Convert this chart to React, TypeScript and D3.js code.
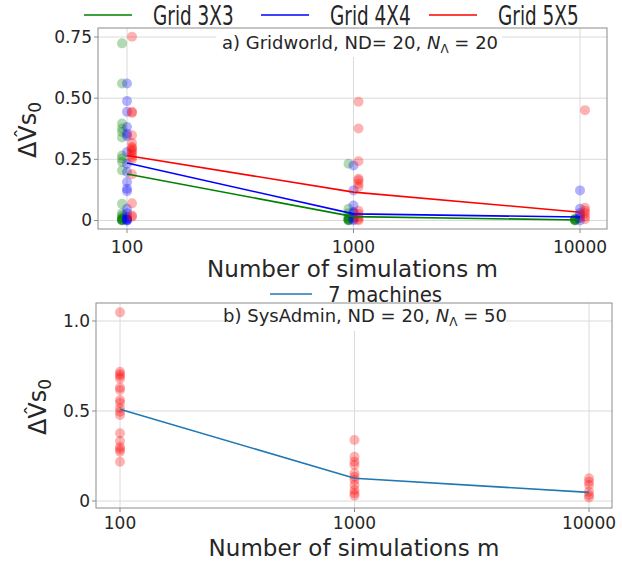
import React from 'react'
import * as d3 from 'd3'

// simulations m
const sims = [100, 1000, 10000]

// a) Gridworld, points per m (Delta V_s0)
const grid3Points = [
  [0.724, 0.56, 0.396, 0.376, 0.362, 0.339, 0.266, 0.253, 0.239, 0.205, 0.068, 0.03, 0.02, 0.012, 0.008, 0.005, 0.003, 0.002, 0.001, 0.0],
  [0.232, 0.048, 0.03, 0.015, 0.01, 0.006, 0.004, 0.002, 0.001, 0.0],
  [0.008, 0.005, 0.003, 0.002, 0.001, 0.0],
]
const grid4Points = [
  [0.56, 0.488, 0.444, 0.382, 0.355, 0.345, 0.28, 0.232, 0.198, 0.157, 0.13, 0.12, 0.048, 0.03, 0.014, 0.008, 0.005, 0.003, 0.0, 0.0],
  [0.225, 0.123, 0.061, 0.035, 0.03, 0.012, 0.005, 0.0],
  [0.123, 0.048, 0.03, 0.02, 0.01, 0.0],
]
const grid5Points = [
  [0.751, 0.444, 0.44, 0.348, 0.317, 0.30, 0.295, 0.287, 0.28, 0.27, 0.26, 0.25, 0.189, 0.07, 0.02, 0.015],
  [0.485, 0.376, 0.242, 0.171, 0.164, 0.15, 0.137, 0.04, 0.027, 0.014, 0.005, 0.0],
  [0.451, 0.052, 0.04, 0.03, 0.016, 0.005],
]
const grid3Mean = [0.19, 0.016, 0.002]
const grid4Mean = [0.235, 0.027, 0.014]
const grid5Mean = [0.266, 0.116, 0.034]

// b) SysAdmin, 7 machines
const sysPoints = [
  [1.048, 0.718, 0.705, 0.694, 0.68, 0.63, 0.617, 0.561, 0.546, 0.515, 0.496, 0.478, 0.376, 0.333, 0.30, 0.287, 0.274, 0.218],
  [0.339, 0.246, 0.218, 0.2, 0.154, 0.135, 0.117, 0.089, 0.061, 0.043, 0.03],
  [0.126, 0.107, 0.089, 0.052, 0.033, 0.02],
]
const sysMean = [0.51, 0.126, 0.048]

const topTicks = [0, 0.25, 0.5, 0.75]
const topTickLabels = ['0', '0.25', '0.50', '0.75']
const botTicks = [0, 0.5, 1.0]
const botTickLabels = ['0', '0.5', '1.0']

const FONT = 'DejaVu Sans, sans-serif'
const TXT = '#262626'
const GRID = '#dadada'
const SPINE = '#8c8c8c'

type Series = { points: number[][]; mean: number[]; color: string; lineColor: string; shift: number }

function Panel(props: {
  left: number; right: number; top: number; bottom: number
  xRange: [number, number]; yDomain: [number, number]; yRange: [number, number]
  ticks: number[]; tickLabels: string[]; series: Series[]
  title: React.ReactNode; titleBox: [number, number, number, number]
  ylabelX: number; ylabelY: number; xlabelY: number; xtickY: number
}) {
  const x = d3.scaleLog().domain([100, 10000]).range(props.xRange)
  const y = d3.scaleLinear().domain(props.yDomain).range(props.yRange)
  const line = d3.line<number>().x((d, i) => x(sims[i])).y(d => y(d))
  const cx = (props.left + props.right) / 2
  return (
    <g>
      {sims.map(m => (
        <line key={'gx' + m} x1={x(m)} x2={x(m)} y1={props.top} y2={props.bottom} stroke={GRID} strokeWidth={1} />
      ))}
      {props.ticks.map(t => (
        <line key={'gy' + t} x1={props.left} x2={props.right} y1={y(t)} y2={y(t)} stroke={GRID} strokeWidth={1} />
      ))}
      <rect x={props.titleBox[0]} y={props.titleBox[1]} width={props.titleBox[2]} height={props.titleBox[3]} fill="white" />
      {props.series.map((s, si) => (
        <g key={'s' + si}>
          {s.points.map((col, i) =>
            col.map((v, j) => (
              <circle key={i + '-' + j} cx={x(sims[i]) + s.shift} cy={y(v)} r={5} fill={s.color} fillOpacity={0.3} />
            ))
          )}
        </g>
      ))}
      {props.series.map((s, si) => (
        <path key={'l' + si} d={line(s.mean) || ''} fill="none" stroke={s.lineColor} strokeWidth={1.6} />
      ))}
      <rect x={props.left} y={props.top} width={props.right - props.left} height={props.bottom - props.top} fill="none" stroke={SPINE} strokeWidth={1} />
      {props.ticks.map((t, i) => (
        <g key={'ty' + t}>
          <line x1={props.left - 4} x2={props.left} y1={y(t)} y2={y(t)} stroke={SPINE} />
          <text x={props.left - 6} y={y(t)} dy="0.35em" textAnchor="end" fontSize={17} fill={TXT}>{props.tickLabels[i]}</text>
        </g>
      ))}
      {sims.map(m => (
        <g key={'tx' + m}>
          <line x1={x(m)} x2={x(m)} y1={props.bottom} y2={props.bottom + 4} stroke={SPINE} />
          <text x={x(m)} y={props.xtickY} dy="0.35em" textAnchor="middle" fontSize={17} fill={TXT}>{m}</text>
        </g>
      ))}
      <text x={cx} y={props.xlabelY} dy="0.35em" textAnchor="middle" fontSize={23} fill={TXT}>Number of simulations m</text>
      <text transform={`translate(${props.ylabelX},${props.ylabelY}) rotate(-90)`} textAnchor="middle" dy="0.35em" fontSize={24} fill={TXT}>
        ΔV&#x302;s<tspan fontSize={17} dy="5">0</tspan>
      </text>
      {props.title}
    </g>
  )
}

export default function App() {
  const topSeries: Series[] = [
    { points: grid3Points, mean: grid3Mean, color: 'green', lineColor: 'green', shift: -5 },
    { points: grid4Points, mean: grid4Mean, color: 'blue', lineColor: 'blue', shift: 0 },
    { points: grid5Points, mean: grid5Mean, color: 'red', lineColor: 'red', shift: 5 },
  ]
  // points in the bottom panel are red, mean line blue
  const botSeries: Series[] = [
    { points: sysPoints, mean: sysMean, color: 'red', lineColor: '#1f77b4', shift: 0 },
  ]

  const legend = [
    { label: 'Grid 3X3', color: 'green', x: 84 },
    { label: 'Grid 4X4', color: 'blue', x: 261 },
    { label: 'Grid 5X5', color: 'red', x: 429 },
  ]

  return (
    <svg width={622} height={561} style={{ position: 'absolute', left: 0, top: 0, background: 'white' }} fontFamily={FONT}>
      <rect width={622} height={561} fill="white" />
      {legend.map(l => (
        <g key={l.label}>
          <line x1={l.x} x2={l.x + 48} y1={15} y2={15} stroke={l.color} strokeWidth={1.6} />
          <text transform={`translate(${l.x + 69},16) scale(0.71,1)`} dy="0.35em" fontSize={26} fill={TXT}>{l.label}</text>
        </g>
      ))}
      <Panel
        left={98} right={607} top={28} bottom={229}
        xRange={[127, 580]} yDomain={[0, 0.75]} yRange={[220.5, 37]}
        ticks={topTicks} tickLabels={topTickLabels} series={topSeries}
        titleBox={[216, 29, 286, 28]}
        title={
          <text x={360} y={43} dy="0.35em" textAnchor="middle" fontSize={18} fill={TXT}>
            a) Gridworld, ND= 20, <tspan fontStyle="italic">N</tspan><tspan fontSize={12} dy="4">Λ</tspan><tspan dy="-4"> = 20</tspan>
          </text>
        }
        ylabelX={28} ylabelY={130} xlabelY={269} xtickY={247}
      />
      <line x1={270} x2={312} y1={294} y2={294} stroke="#1f77b4" strokeWidth={1.6} />
      <text transform="translate(328,294) scale(0.9,1)" dy="0.35em" fontSize={22} fill={TXT}>7 machines</text>
      <Panel
        left={96} right={612} top={303} bottom={508}
        xRange={[120, 589]} yDomain={[0, 1]} yRange={[501, 321]}
        ticks={botTicks} tickLabels={botTickLabels} series={botSeries}
        titleBox={[224, 304, 282, 27]}
        title={
          <text x={365} y={316} dy="0.35em" textAnchor="middle" fontSize={18} fill={TXT}>
            b) SysAdmin, ND = 20, <tspan fontStyle="italic">N</tspan><tspan fontSize={12} dy="4">Λ</tspan><tspan dy="-4"> = 50</tspan>
          </text>
        }
        ylabelX={38} ylabelY={407} xlabelY={548} xtickY={523}
      />
    </svg>
  )
}
